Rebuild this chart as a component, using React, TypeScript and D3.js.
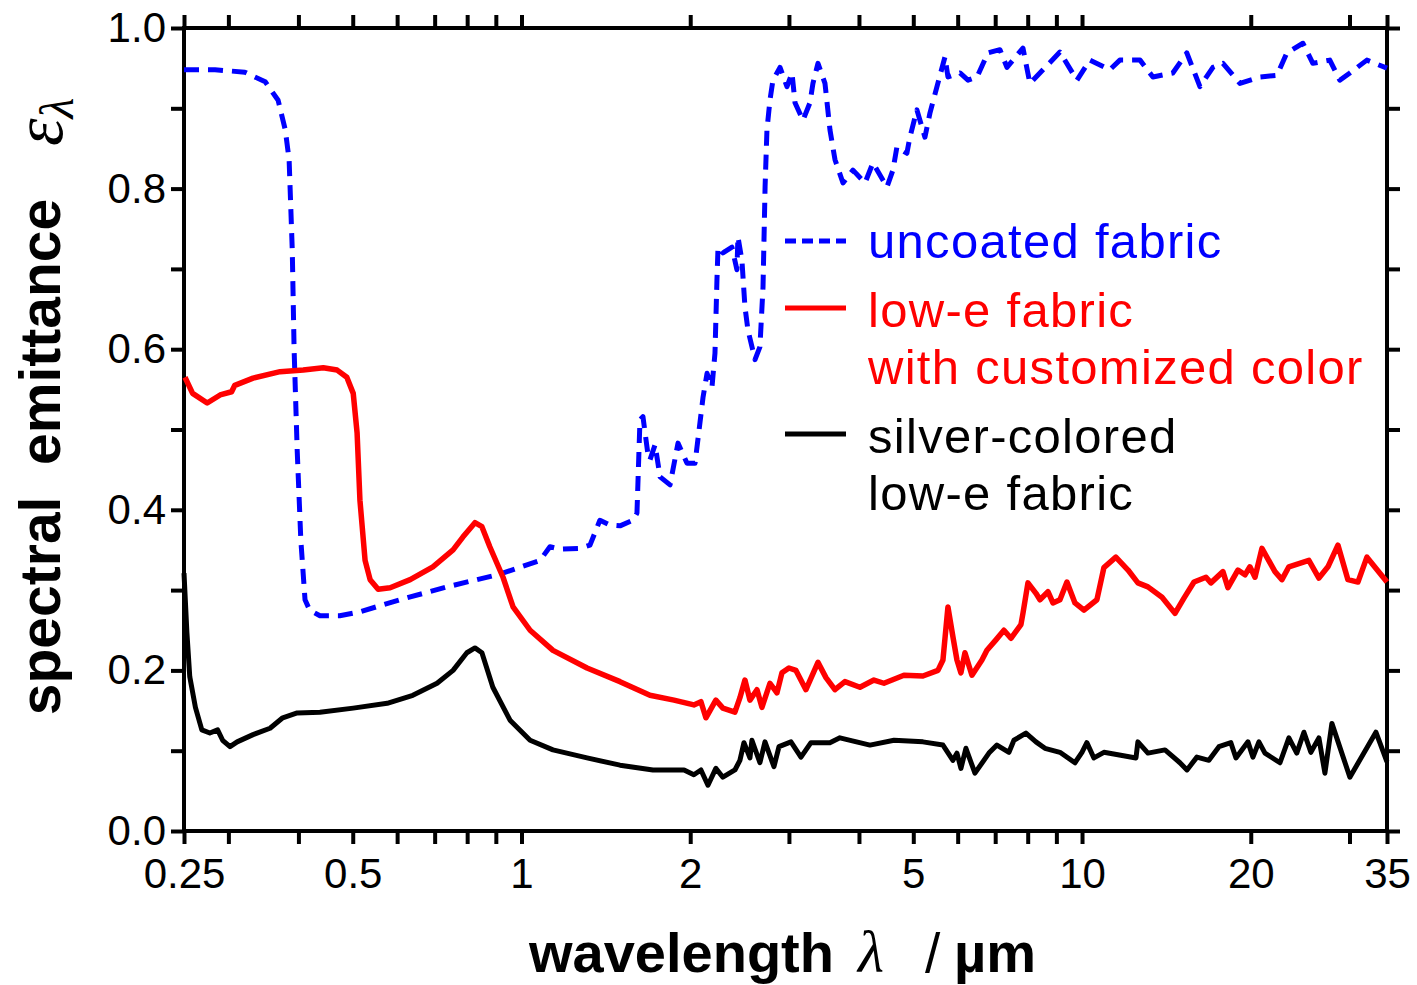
import React, { useEffect, useRef } from "react";
import * as d3 from "d3";

// uncoated fabric (blue, dashed)
const uncoatedWl = [
  0.25, 0.284, 0.321, 0.349, 0.368, 0.379, 0.385, 0.39, 0.393, 0.398, 0.404, 0.411, 0.419, 0.437, 0.474,
  0.515, 0.607, 0.746, 0.916, 1.079, 1.124, 1.171, 1.272, 1.325, 1.38, 1.439, 1.499, 1.581, 1.607, 1.627,
  1.647, 1.682, 1.695, 1.731, 1.767, 1.841, 1.902, 1.974, 2.04, 2.108, 2.143, 2.187, 2.214, 2.232, 2.242,
  2.288, 2.374, 2.423, 2.433, 2.473, 2.504, 2.535, 2.61, 2.663, 2.697, 2.72, 2.741, 2.775, 2.809, 2.892,
  2.976, 3.038, 3.076, 3.178, 3.271, 3.311, 3.38, 3.479, 3.551, 3.625, 3.746, 3.903, 4.1, 4.236, 4.487,
  4.599, 4.675, 4.87, 4.931, 5.075, 5.245, 5.354, 5.511, 5.695, 5.765, 6.057, 6.26, 6.496, 6.796, 7.138,
  7.346, 7.845, 8.073, 8.518, 9.131, 9.792, 10.33, 11.21, 11.68, 12.69, 13.38, 14.52, 15.38, 16.23, 17.12,
  17.84, 19.13, 20.77, 22.27, 23.2, 24.78, 25.81, 27.67, 28.83, 30.05, 32.22, 35.0,
];
const uncoatedEps = [
  0.948, 0.948, 0.945, 0.933, 0.91, 0.873, 0.836, 0.724, 0.599, 0.474, 0.362, 0.288, 0.275, 0.268, 0.268,
  0.273, 0.288, 0.305, 0.32, 0.337, 0.354, 0.351, 0.352, 0.356, 0.387, 0.381, 0.38, 0.387, 0.396, 0.512,
  0.516, 0.468, 0.462, 0.481, 0.441, 0.431, 0.483, 0.458, 0.458, 0.54, 0.57, 0.553, 0.595, 0.686, 0.727,
  0.72, 0.727, 0.699, 0.74, 0.711, 0.653, 0.624, 0.587, 0.603, 0.677, 0.802, 0.873, 0.91, 0.935, 0.951,
  0.927, 0.944, 0.907, 0.885, 0.907, 0.931, 0.956, 0.931, 0.873, 0.836, 0.807, 0.823, 0.807, 0.832, 0.802,
  0.823, 0.852, 0.844, 0.864, 0.898, 0.864, 0.894, 0.927, 0.964, 0.939, 0.944, 0.935, 0.939, 0.969, 0.973,
  0.951, 0.975, 0.931, 0.948, 0.97, 0.935, 0.96, 0.948, 0.96, 0.96, 0.939, 0.944, 0.969, 0.927, 0.951,
  0.956, 0.931, 0.939, 0.941, 0.969, 0.981, 0.956, 0.96, 0.935, 0.944, 0.96, 0.95,
];

// low-e fabric with customized color (red)
const colorWl = [
  0.251, 0.259, 0.275, 0.29, 0.304, 0.308, 0.332, 0.371, 0.408, 0.443, 0.469, 0.488, 0.501, 0.509, 0.515,
  0.526, 0.537, 0.555, 0.583, 0.633, 0.695, 0.755, 0.786, 0.826, 0.85, 0.878, 0.927, 0.966, 1.036, 1.138,
  1.309, 1.499, 1.695, 1.871, 2.03, 2.09, 2.133, 2.222, 2.287, 2.403, 2.453, 2.504, 2.556, 2.631, 2.685,
  2.775, 2.856, 2.915, 3.0, 3.088, 3.217, 3.38, 3.493, 3.624, 3.776, 4.016, 4.254, 4.432, 4.811, 5.202,
  5.533, 5.648, 5.765, 5.884, 5.982, 6.081, 6.182, 6.362, 6.629, 6.766, 7.021, 7.256, 7.468, 7.781, 7.845,
  8.008, 8.276, 8.413, 8.694, 8.874, 9.133, 9.399, 9.714, 10.08, 10.63, 10.94, 11.49, 12.08, 12.58, 13.11,
  13.89, 14.65, 15.2, 15.84, 16.64, 16.98, 17.84, 18.21, 18.97, 19.53, 19.93, 20.35, 20.94, 22.09, 22.73,
  23.39, 25.39, 26.46, 27.46, 28.61, 29.81, 31.06, 32.23, 35.0,
];
const colorEps = [
  0.565, 0.545, 0.533, 0.543, 0.547, 0.555, 0.564, 0.572, 0.574, 0.577, 0.574, 0.565, 0.545, 0.496, 0.412,
  0.337, 0.313, 0.301, 0.303, 0.313, 0.329, 0.35, 0.366, 0.384, 0.379, 0.354, 0.316, 0.279, 0.25, 0.225,
  0.203, 0.186, 0.169, 0.163, 0.157, 0.161, 0.141, 0.163, 0.153, 0.148, 0.166, 0.188, 0.163, 0.176, 0.154,
  0.184, 0.172, 0.197, 0.203, 0.2, 0.176, 0.21, 0.191, 0.176, 0.186, 0.179, 0.188, 0.184, 0.194, 0.193,
  0.2, 0.213, 0.279, 0.242, 0.213, 0.197, 0.222, 0.194, 0.213, 0.225, 0.238, 0.25, 0.24, 0.257, 0.271,
  0.309, 0.296, 0.288, 0.298, 0.284, 0.288, 0.31, 0.284, 0.275, 0.288, 0.328, 0.341, 0.325, 0.309, 0.304,
  0.291, 0.271, 0.29, 0.31, 0.316, 0.309, 0.323, 0.303, 0.325, 0.319, 0.329, 0.316, 0.352, 0.323, 0.313,
  0.329, 0.337, 0.315, 0.329, 0.356, 0.313, 0.31, 0.341, 0.31,
];

// silver-colored low-e fabric (black)
const silverWl = [
  0.25, 0.253, 0.256, 0.262, 0.269, 0.278, 0.287, 0.293, 0.302, 0.311, 0.332, 0.356, 0.375, 0.398, 0.437,
  0.501, 0.576, 0.64, 0.707, 0.755, 0.799, 0.826, 0.85, 0.889, 0.954, 1.036, 1.138, 1.309, 1.499, 1.716,
  1.95, 2.03, 2.09, 2.151, 2.222, 2.287, 2.403, 2.453, 2.494, 2.556, 2.577, 2.663, 2.719, 2.821, 2.88,
  3.025, 3.152, 3.284, 3.55, 3.699, 4.185, 4.619, 5.202, 5.648, 5.884, 5.982, 6.081, 6.207, 6.441, 6.822,
  7.05, 7.407, 7.56, 7.942, 8.276, 8.587, 9.133, 9.714, 9.997, 10.2, 10.5, 10.94, 11.59, 12.48, 12.58,
  13.11, 14.06, 14.95, 15.39, 16.03, 16.84, 17.55, 18.43, 18.82, 19.77, 20.18, 20.68, 21.2, 22.55, 23.39,
  24.16, 24.88, 25.6, 26.46, 27.12, 27.91, 30.05, 33.44, 35.0,
];
const silverEps = [
  0.321, 0.247, 0.192, 0.154, 0.126, 0.122, 0.126, 0.113, 0.105, 0.111, 0.12, 0.128, 0.141, 0.147, 0.148,
  0.153, 0.159, 0.169, 0.184, 0.2, 0.222, 0.228, 0.222, 0.179, 0.138, 0.113, 0.101, 0.091, 0.082, 0.076,
  0.076, 0.07, 0.076, 0.057, 0.078, 0.067, 0.076, 0.088, 0.11, 0.091, 0.113, 0.085, 0.111, 0.08, 0.105,
  0.111, 0.092, 0.11, 0.11, 0.116, 0.107, 0.113, 0.111, 0.107, 0.088, 0.097, 0.078, 0.103, 0.072, 0.097,
  0.107, 0.098, 0.113, 0.122, 0.111, 0.103, 0.098, 0.085, 0.098, 0.11, 0.091, 0.098, 0.095, 0.091, 0.111,
  0.097, 0.101, 0.085, 0.076, 0.092, 0.088, 0.105, 0.11, 0.091, 0.111, 0.092, 0.111, 0.097, 0.085, 0.116,
  0.097, 0.123, 0.098, 0.116, 0.072, 0.134, 0.067, 0.123, 0.086,
];

const xMajor = [0.25, 0.5, 1, 2, 5, 10, 20, 35];
const xMinor = [0.3, 0.4, 0.6, 0.7, 0.8, 0.9, 3, 4, 6, 7, 8, 9, 30];
const yTickVals = [0, 0.1, 0.2, 0.3, 0.4, 0.5, 0.6, 0.7, 0.8, 0.9, 1.0];
const yLabelVals = [0, 0.2, 0.4, 0.6, 0.8, 1.0];

const FONT = "'Liberation Sans', Arial, Helvetica, sans-serif";
const SERIF = "'Liberation Serif', 'Times New Roman', serif";

export default function App() {
  const ref = useRef<SVGSVGElement>(null);

  useEffect(() => {
    const svg = d3.select(ref.current);
    svg.selectAll("*").remove();

    const x = d3.scaleLog().domain([0.25, 35]).range([184, 1387]);
    const y = d3.scaleLinear().domain([0, 1]).range([831, 28]);
    const allX = [...xMajor, ...xMinor];

    const styleAxis = (g: any) => {
      g.select(".domain").remove();
      g.selectAll(".tick line").attr("stroke", "#000").attr("stroke-width", 4);
      g.attr("font-family", FONT).attr("font-size", 42);
      g.selectAll(".tick text").attr("fill", "#000");
    };

    const xAxis = d3.axisBottom(x).tickValues(allX)
      .tickFormat((d: any) => (xMajor.includes(+d) ? String(+d) : ""))
      .tickSize(13).tickPadding(14);
    svg.append("g").attr("transform", "translate(0,831)").call(xAxis).call(styleAxis);

    const xTop = d3.axisTop(x).tickValues(allX).tickFormat(() => "").tickSize(13);
    svg.append("g").attr("transform", "translate(0,28)").call(xTop).call(styleAxis);

    const yAxis = d3.axisLeft(y).tickValues(yTickVals)
      .tickFormat((d: any) => (yLabelVals.some(v => Math.abs(v - d) < 1e-6) ? d3.format(".1f")(d) : ""))
      .tickSize(13).tickPadding(5);
    svg.append("g").attr("transform", "translate(184,0)").call(yAxis).call(styleAxis);

    const yRight = d3.axisRight(y).tickValues(yTickVals).tickFormat(() => "").tickSize(13);
    svg.append("g").attr("transform", "translate(1387,0)").call(yRight).call(styleAxis);

    // frame
    svg.append("rect")
      .attr("x", 184).attr("y", 28).attr("width", 1203).attr("height", 803)
      .attr("fill", "none").attr("stroke", "#000").attr("stroke-width", 4);

    const lineGen = d3.line<[number, number]>()
      .x(d => x(d[0]))
      .y(d => y(d[1]));

    const series = [
      { wl: uncoatedWl, eps: uncoatedEps, color: "#0000ff", width: 5, dash: "15 9" },
      { wl: colorWl, eps: colorEps, color: "#ff0000", width: 5.5, dash: null },
      { wl: silverWl, eps: silverEps, color: "#000000", width: 5, dash: null },
    ];

    series.forEach(s => {
      const pts = s.wl.map((w, i) => [w, s.eps[i]] as [number, number]);
      const p = svg.append("path")
        .attr("d", lineGen(pts))
        .attr("fill", "none")
        .attr("stroke", s.color)
        .attr("stroke-width", s.width)
        .attr("stroke-linejoin", "round");
      if (s.dash) p.attr("stroke-dasharray", s.dash);
    });

    // legend
    const legend = svg.append("g").attr("font-family", FONT).attr("font-size", 49)
      .attr("letter-spacing", 1.3);
    legend.append("line").attr("x1", 785).attr("x2", 846).attr("y1", 241).attr("y2", 241)
      .attr("stroke", "#0000ff").attr("stroke-width", 5).attr("stroke-dasharray", "11 6");
    legend.append("text").attr("x", 868).attr("y", 258).attr("fill", "#0000ff").text("uncoated fabric");

    legend.append("line").attr("x1", 785).attr("x2", 846).attr("y1", 308).attr("y2", 308)
      .attr("stroke", "#ff0000").attr("stroke-width", 5);
    legend.append("text").attr("x", 868).attr("y", 327).attr("fill", "#ff0000").text("low-e fabric");
    legend.append("text").attr("x", 868).attr("y", 384).attr("fill", "#ff0000").text("with customized color");

    legend.append("line").attr("x1", 785).attr("x2", 846).attr("y1", 434).attr("y2", 434)
      .attr("stroke", "#000").attr("stroke-width", 5);
    legend.append("text").attr("x", 868).attr("y", 453).attr("fill", "#000").text("silver-colored");
    legend.append("text").attr("x", 868).attr("y", 510).attr("fill", "#000").text("low-e fabric");

    // x axis title
    const xt = svg.append("text").attr("y", 972).attr("fill", "#000");
    xt.append("tspan").attr("x", 529).attr("font-family", FONT).attr("font-weight", "bold")
      .attr("font-size", 56).text("wavelength");
    xt.append("tspan").attr("x", 858).attr("font-family", SERIF).attr("font-style", "italic")
      .attr("font-size", 60).text("λ");
    xt.append("tspan").attr("x", 925).attr("font-family", FONT).attr("font-size", 55).text("/");
    xt.append("tspan").attr("x", 954).attr("font-family", FONT).attr("font-weight", "bold")
      .attr("font-size", 56).text("µm");

    // y axis title
    svg.append("text")
      .attr("transform", "translate(60,457) rotate(-90)")
      .attr("text-anchor", "middle")
      .attr("font-family", FONT).attr("font-weight", "bold").attr("font-size", 57)
      .attr("fill", "#000")
      .style("white-space", "pre")
      .text("spectral  emittance");

    const eps = svg.append("text")
      .attr("transform", "translate(62,146) rotate(-90)")
      .attr("font-family", SERIF).attr("font-style", "italic").attr("fill", "#000");
    eps.append("tspan").attr("font-size", 70).text("ε");
    eps.append("tspan").attr("font-size", 48).attr("dy", 11).text("λ");
  }, []);

  return (
    <svg
      ref={ref}
      width={1417}
      height={985}
      style={{ position: "absolute", left: 0, top: 0, background: "#fff" }}
    />
  );
}
